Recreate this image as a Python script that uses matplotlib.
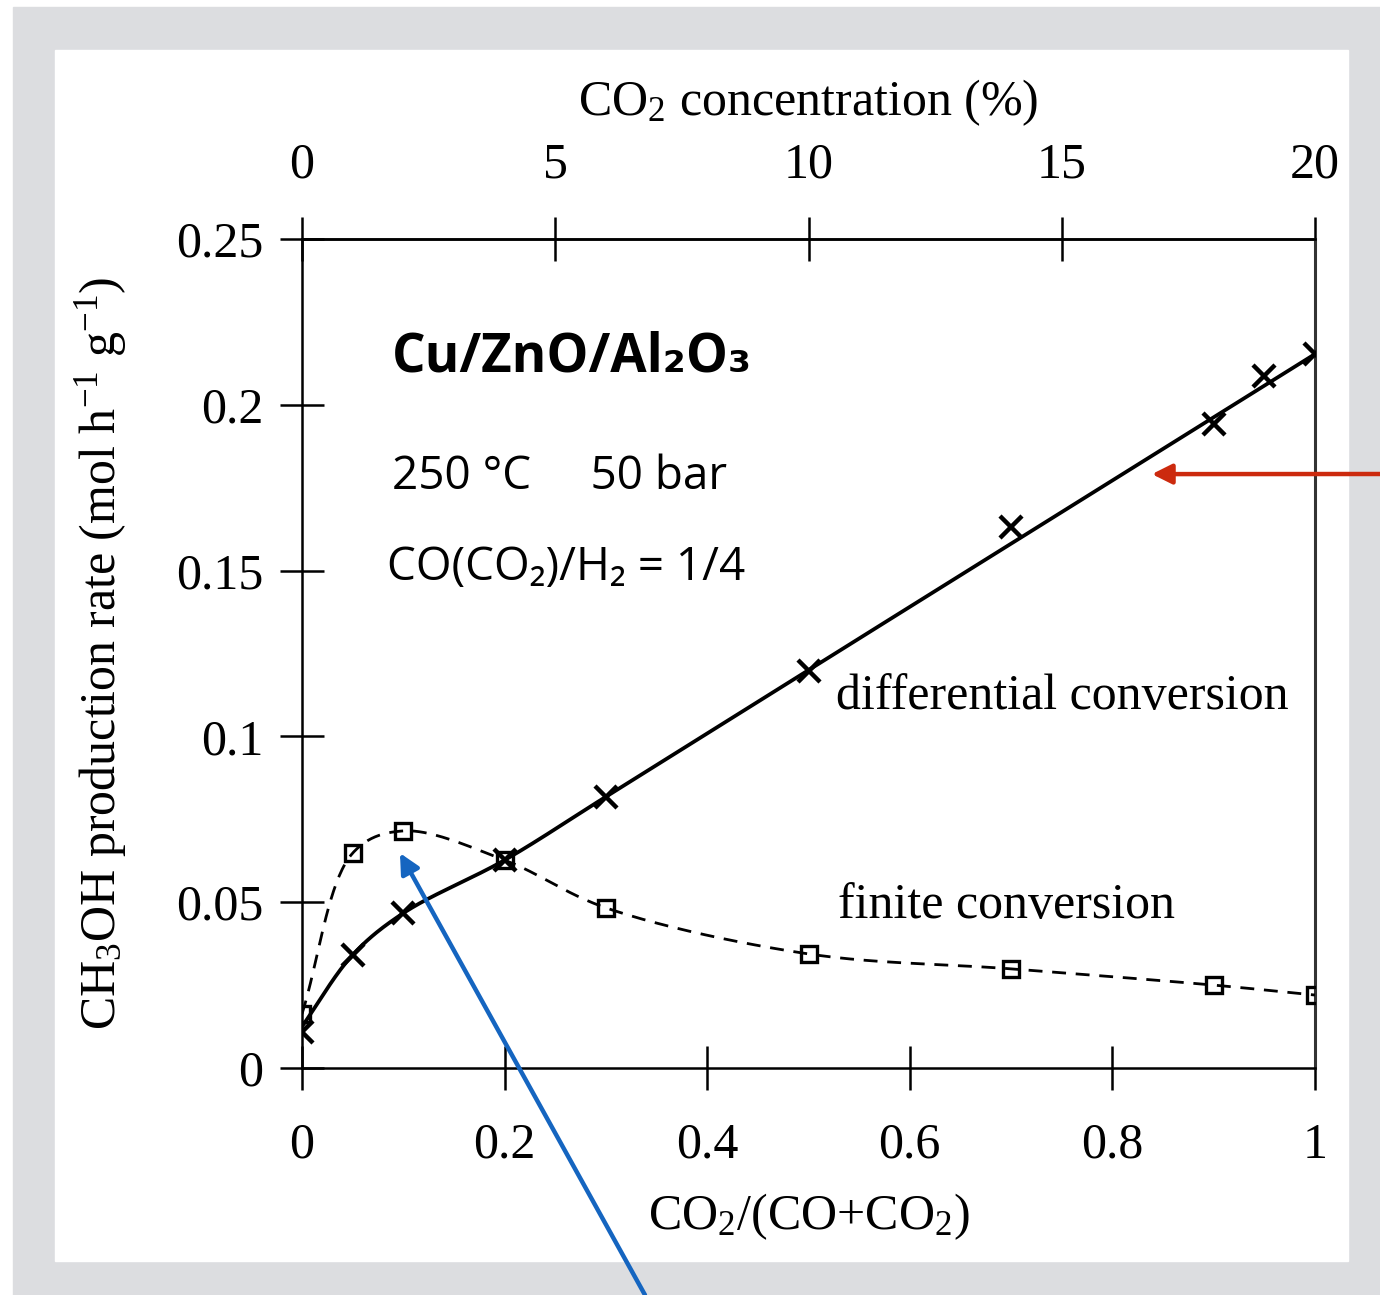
import numpy as np
import matplotlib
matplotlib.use("Agg")
import matplotlib.pyplot as plt

plt.rcParams['font.family'] = ['Liberation Serif', 'DejaVu Serif']
plt.rcParams['mathtext.fontset'] = 'custom'
plt.rcParams['mathtext.rm'] = 'Liberation Serif'
plt.rcParams['mathtext.it'] = 'Liberation Serif:italic'

# --- data ---
ratio = [0, 0.05, 0.1, 0.2, 0.3, 0.5, 0.7, 0.9, 0.95, 1.0]
rate_diff = [0.0109, 0.0341, 0.0467, 0.0627, 0.0817, 0.1197, 0.1632, 0.1942, 0.2087, 0.2153]

# solid fitted line for differential conversion
fit_x = [0, 0.05, 0.1, 0.2, 0.3, 0.5, 1.0]
fit_y = [0.0125, 0.0341, 0.0467, 0.0627, 0.0818, 0.1200, 0.2153]

ratio_fin = [0, 0.05, 0.1, 0.2, 0.3, 0.5, 0.7, 0.9, 1.0]
rate_fin = [0.0163, 0.0648, 0.0715, 0.0627, 0.0483, 0.0344, 0.0299, 0.0250, 0.0220]

xticks = [0, 0.2, 0.4, 0.6, 0.8, 1.0]
xticklabels = ['0', '0.2', '0.4', '0.6', '0.8', '1']
yticks = [0, 0.05, 0.1, 0.15, 0.2, 0.25]
yticklabels = ['0', '0.05', '0.1', '0.15', '0.2', '0.25']
top_ticks = [0, 5, 10, 15, 20]


def smooth(xs, ys, ysc, n=40, alpha=0.5):
    # centripetal Catmull-Rom through the given points (for drawing only)
    P = np.column_stack([np.asarray(xs, float), np.asarray(ys, float) / ysc])
    P = np.vstack([2 * P[0] - P[1], P, 2 * P[-1] - P[-2]])
    out = []
    for i in range(1, len(P) - 2):
        p0, p1, p2, p3 = P[i - 1], P[i], P[i + 1], P[i + 2]
        t0 = 0.0
        t1 = t0 + np.linalg.norm(p1 - p0) ** alpha
        t2 = t1 + np.linalg.norm(p2 - p1) ** alpha
        t3 = t2 + np.linalg.norm(p3 - p2) ** alpha
        t = np.linspace(t1, t2, n)[:, None]
        a1 = (t1 - t) / (t1 - t0) * p0 + (t - t0) / (t1 - t0) * p1
        a2 = (t2 - t) / (t2 - t1) * p1 + (t - t1) / (t2 - t1) * p2
        a3 = (t3 - t) / (t3 - t2) * p2 + (t - t2) / (t3 - t2) * p3
        b1 = (t2 - t) / (t2 - t0) * a1 + (t - t0) / (t2 - t0) * a2
        b2 = (t3 - t) / (t3 - t1) * a2 + (t - t1) / (t3 - t1) * a3
        c = (t2 - t) / (t2 - t1) * b1 + (t - t1) / (t2 - t1) * b2
        out.append(c if i == 1 else c[1:])
    c = np.vstack(out)
    return c[:, 0], c[:, 1] * ysc


fig = plt.figure(figsize=(13.8, 12.95), dpi=100)
fig.patch.set_facecolor('white')

# grey frame with white panel
bg = '#dcdde0'
fig.patches.append(plt.Rectangle((13 / 1380, 0), 1 - 13 / 1380, 1 - 7 / 1295,
                                 transform=fig.transFigure, color=bg, zorder=-10))
fig.patches.append(plt.Rectangle((55 / 1380, 1 - 1261 / 1295), (1348 - 55) / 1380, (1261 - 50) / 1295,
                                 transform=fig.transFigure, color='white', zorder=-9))

ax = fig.add_axes([302 / 1380, 1 - 1068 / 1295, (1315 - 302) / 1380, (1068 - 239) / 1295])
ax.set_facecolor('none')
ax.set_xlim(0, 1)
ax.set_ylim(0, 0.25)

ysc = 0.25 * 1013 / 829
sx, sy = smooth(fit_x, fit_y, ysc)
ax.plot(sx, sy, color='black', lw=2.7, zorder=3)
fx, fy = smooth(ratio_fin, rate_fin, ysc)
ax.plot(fx, fy, color='black', lw=2.0, ls=(0, (5, 3.5)), zorder=3)

ax.plot(ratio, rate_diff, ls='none', marker='x', ms=16, mew=3.2, color='black', zorder=4)
ax.plot(ratio_fin, rate_fin, ls='none', marker='s', ms=12, mew=2.4, mfc='none', mec='black', zorder=4)

for s in ['left', 'bottom', 'top']:
    ax.spines[s].set_linewidth(1.8)
ax.spines['right'].set_linewidth(2.2)
ax.spines['right'].set_color('#333333')

ax.set_xticks(xticks)
ax.set_xticklabels(xticklabels)
ax.set_yticks(yticks)
ax.set_yticklabels(yticklabels)
ax.tick_params(direction='inout', length=32, width=1.8, labelsize=36)
ax.tick_params(axis='x', pad=23)
ax.tick_params(axis='y', pad=12)

top = ax.secondary_xaxis('top', functions=(lambda v: v * 20, lambda v: v / 20))
top.set_xticks(top_ticks)
top.set_xticklabels([str(t) for t in top_ticks])
top.tick_params(direction='inout', length=32, width=1.8, labelsize=36, pad=20)
top.spines['top'].set_linewidth(1.8)
top.set_xlabel(r'CO$_\mathrm{2}$ concentration (%)', fontsize=36, labelpad=20)

ax.set_xlabel(r'CO$_\mathrm{2}$/(CO+CO$_\mathrm{2}$)', fontsize=36, labelpad=16)
ax.set_ylabel(r'CH$_\mathrm{3}$OH production rate (mol h$^{\mathrm{-1}}$ g$^{\mathrm{-1}}$)',
              fontsize=36, labelpad=34)

ax.text(836 / 1380, 1 - 697 / 1295, 'differential conversion', transform=fig.transFigure,
        fontsize=36, va='center', ha='left')
ax.text(838 / 1380, 1 - 906 / 1295, 'finite conversion', transform=fig.transFigure,
        fontsize=36, va='center', ha='left')

sans = ['Open Sans', 'DejaVu Sans']
fig.text(392 / 1380, 1 - 357 / 1295, 'Cu/ZnO/Al₂O₃', family=sans, fontweight='bold',
         fontsize=38, va='center', ha='left')
fig.text(392 / 1380, 1 - 477 / 1295, '250 °C     50 bar', family=sans,
         fontsize=33, va='center', ha='left')
fig.text(387 / 1380, 1 - 568 / 1295, 'CO(CO₂)/H₂ = 1/4', family=sans,
         fontsize=33, va='center', ha='left')

# arrows
ax.annotate('', xy=(0.839, 0.1791), xycoords='data',
            xytext=(1.0, 1 - 474 / 1295), textcoords='figure fraction',
            arrowprops=dict(arrowstyle='-|>', color='#cc2a0e', lw=3.2,
                            mutation_scale=30, shrinkA=0, shrinkB=0),
            annotation_clip=False)
ax.annotate('', xy=(0.0967, 0.0648), xycoords='data',
            xytext=(645 / 1380, 0.0), textcoords='figure fraction',
            arrowprops=dict(arrowstyle='-|>', color='#1565c0', lw=3.2,
                            mutation_scale=30, shrinkA=0, shrinkB=0),
            annotation_clip=False)

fig.savefig('out.png', dpi=100)
